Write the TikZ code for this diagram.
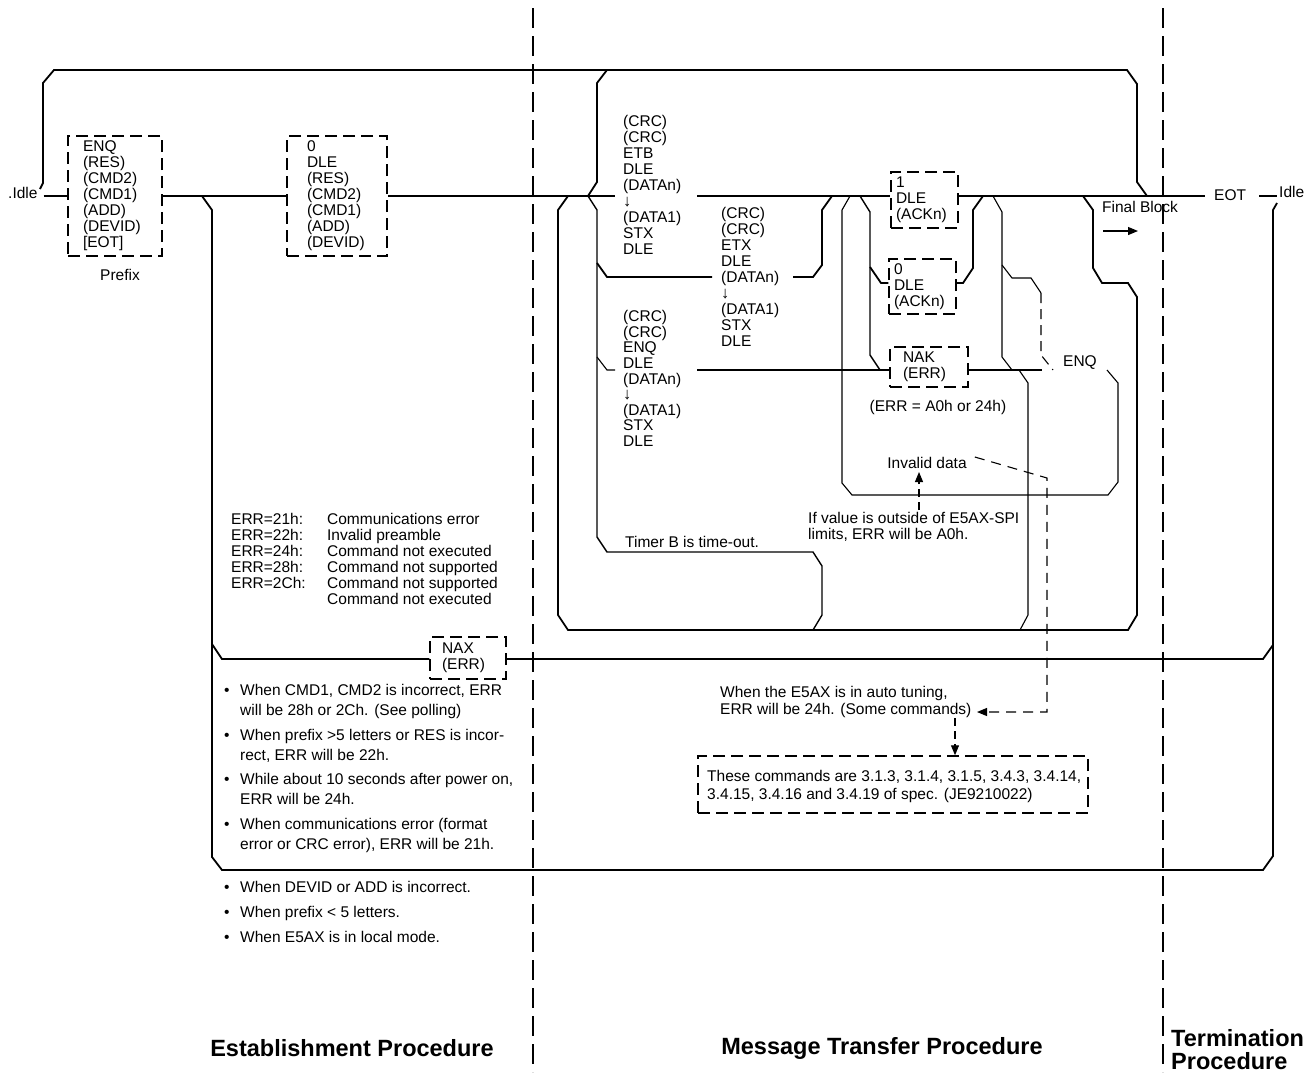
\documentclass[tikz,border=0pt]{standalone}
\usepackage{fontspec}
\setmainfont{Liberation Sans}
\usetikzlibrary{arrows.meta}
\newcommand{\fsz}{\fontsize{15.5}{16}\selectfont\lineskiplimit=-20pt\relax}
\newcommand{\fszq}{\fontsize{15.5}{15.6}\selectfont\lineskiplimit=-20pt\relax}
\newcommand{\fsplain}{\fontsize{15.5}{16}\selectfont}
\newcommand{\dn}{{\fontsize{16.5}{16}\selectfont ↓}}
\newcommand{\bl}{\makebox[16pt][l]{•}}
\newcommand{\ind}{\hspace*{16pt}}
\begin{document}
\begin{tikzpicture}[x=1pt,y=-1pt,
  railthick/.style={line width=1.8pt},
  railmid/.style={line width=1.4pt},
  railthin/.style={line width=1.1pt},
  divider/.style={line width=1.2pt, dash pattern=on 20pt off 8pt},
  notedash/.style={line width=1.1pt, dash pattern=on 10pt off 7pt},
  arrowhd/.style={-{Triangle[length=10pt,width=8pt]}},
  txt/.style={font=\fsz, inner sep=0pt, align=left},
  dbox/.style={draw, line width=1.5pt, dash pattern=on 12pt off 6pt, font=\fsz, align=left, inner ysep=0pt},
  proclabel/.style={font=\fontsize{23.5}{23}\selectfont\bfseries, inner sep=0pt, align=left}
]
\useasboundingbox (0,0) rectangle (1311,1072);

% phase separators
\draw[divider] (533,8) -- (533,1072);
\draw[divider] (1163,8) -- (1163,1072);

% boxes
\node[dbox, minimum height=120pt, text width=64pt, inner xsep=15pt] (prefix) at (115,196)
  {ENQ\\(RES)\\(CMD2)\\(CMD1)\\(ADD)\\(DEVID)\\{[EOT]}};
\node[dbox, minimum height=120pt, text width=60pt, inner xsep=20pt] (box2) at (337,196)
  {0\\DLE\\(RES)\\(CMD2)\\(CMD1)\\(ADD)\\(DEVID)};
\node[dbox, minimum height=56pt, text width=57pt, inner xsep=5pt] (ack1) at (924.5,200)
  {1\\DLE\\(ACKn)};
\node[dbox, minimum height=55pt, text width=57pt, inner xsep=5pt] (ack0) at (922.5,286.5)
  {0\\DLE\\(ACKn)};
\node[dbox, minimum height=40pt, text width=52pt, inner xsep=13pt] (nak) at (929,367)
  {NAK\\(ERR)};
\node[dbox, minimum height=42pt, text width=52pt, inner xsep=12pt] (nax) at (468,658)
  {NAX\\(ERR)};
\node[dbox, minimum width=390pt, minimum height=57pt] (cmdbox) at (893,784.5) {};

% junction helpers
\coordinate (mainy) at (0,196);
\coordinate (j0) at (881,283);
\coordinate (jn) at (880,370);
\coordinate (jx) at (222,659);
\coordinate (cmdx) at (955,0);

% texts
\node[txt, anchor=west] (idleL) at (8,193) {.Idle};
\node[txt, anchor=west] (idleR) at (1279,192) {Idle};
\node[txt, anchor=west] (eot) at (1214,195) {EOT};
\node[txt, anchor=west] (fb) at (1102,207) {Final Block};
\node[txt] (prefixlbl) at (120,275) {Prefix};
\node[txt, anchor=west] (etb) at (623,185)
  {(CRC)\\(CRC)\\ETB\\DLE\\(DATAn)\\\dn\\(DATA1)\\STX\\DLE};
\node[txt, anchor=west] (etx) at (721,276.5)
  {(CRC)\\(CRC)\\ETX\\DLE\\(DATAn)\\\dn\\(DATA1)\\STX\\DLE};
\node[txt, anchor=west, font=\fszq] (enqblk) at (623,378.5)
  {(CRC)\\(CRC)\\ENQ\\DLE\\(DATAn)\\\dn\\(DATA1)\\STX\\DLE};
\node[txt, anchor=west] (timer) at (625,542) {Timer B is time-out.};
\node[txt] (errval) at (938,407) {(ERR = A0h or 24h)};
\node[txt] (inv) at (927,463) {Invalid data};
\node[txt, anchor=west] (ifval) at (808,527) {If value is outside of E5AX-SPI\\limits, ERR will be A0h.};
\node[txt, anchor=west, font=\fontsize{15.5}{17}\selectfont] (tuning) at (720,701.5)
  {When the E5AX is in auto tuning,\\ERR will be 24h. (Some commands)};
\node[txt, anchor=west, font=\fontsize{15.5}{18}\selectfont] (cmdtxt) at (707,786)
  {These commands are 3.1.3, 3.1.4, 3.1.5, 3.4.3, 3.4.14,\\3.4.15, 3.4.16 and 3.4.19 of spec. (JE9210022)};
\node[txt, anchor=west] (enq) at (1063,363) {ENQ};
\node[txt, anchor=west, font=\fsplain] (errtab) at (231,561)
  {\begin{tabular}{@{}p{96pt}@{}l@{}}
   ERR=21h: & Communications error\\
   ERR=22h: & Invalid preamble\\
   ERR=24h: & Command not executed\\
   ERR=28h: & Command not supported\\
   ERR=2Ch: & Command not supported\\
            & Command not executed
   \end{tabular}};
\node[txt, anchor=west, font=\fontsize{15.5}{20}\selectfont] (bul1) at (224,768.5)
  {\bl When CMD1, CMD2 is incorrect, ERR\\
   \ind will be 28h or 2Ch. (See polling)\\[4.5pt]
   \bl When prefix >5 letters or RES is incor-\\
   \ind rect, ERR will be 22h.\\[4.5pt]
   \bl While about 10 seconds after power on,\\
   \ind ERR will be 24h.\\[4.5pt]
   \bl When communications error (format\\
   \ind error or CRC error), ERR will be 21h.};
\node[txt, anchor=west, font=\fontsize{15.5}{25}\selectfont] (bul2) at (224,912)
  {\bl When DEVID or ADD is incorrect.\\
   \bl When prefix < 5 letters.\\
   \bl When E5AX is in local mode.};
\node[proclabel] (est) at (352,1048) {Establishment Procedure};
\node[proclabel] (mtp) at (882,1048) {Message Transfer Procedure};
\node[proclabel, anchor=west] (term) at (1171,1049.5) {Termination\\Procedure};

% main line
\draw[railthick] ([xshift=6pt]idleL.east |- mainy) -- (prefix.west);
\draw[railthick] (prefix.east) -- (box2.west);
\draw[railthick] (box2.east) -- (615,196);
\draw[railthick] (697,196) -- (mainy -| ack1.west);
\draw[railthick] (mainy -| ack1.east) -- ([xshift=-9pt]eot.west |- mainy);
\draw[railthick] ([xshift=13pt]eot.east |- mainy) -- ([xshift=-2pt]idleR.west |- mainy);

% top loop
\draw[railthick] (40,189) -- (43,183) -- (43,83) -- (54,70) -- (1127,70) -- (1137,84) -- (1137,182) -- (1147,196);

% establishment error loops
\draw[railthick] (202,196) -- (212,210) -- (212,857) -- (222,870) -- (1263,870) -- (1273,856) -- (1273,210) -- (1277,203);
\draw[railthick] (212,644) -- (jx) -- (nax.west |- jx);
\draw[railthick] (nax.east |- jx) -- (1263,659) -- (1273,645);

% message transfer
\draw[railthick] (607,70) -- (597,83) -- (597,182) -- (588,196);
\draw[railmid] (588,196) -- (597,210) -- (597,537) -- (607,552) -- (813,552) -- (822,566) -- (822,615) -- (813,630);
\draw[railthick] (597,263) -- (607,277) -- (712,277);
\draw[railthick] (793,277) -- (813,277) -- (822,265) -- (822,210) -- (832,196);
\draw[railthin] (597,357) -- (607,370) -- (615,370);
\draw[railthin] (697,370) -- (jn -| nak.west);
\draw[railthick] (568,196) -- (558,210) -- (558,615) -- (568,630) -- (1128,630) -- (1137,615) -- (1137,297) -- (1128,283) -- (1102,283) -- (1093,268) -- (1093,210) -- (1083,196);
\draw[railthin] (1020,630) -- (1028,615) -- (1028,383) -- (1019,370);
\draw[railthin] (850,196) -- (842,210) -- (842,483) -- (852,495) -- (1108,495) -- (1118,482) -- (1118,383) -- (1107,370);
\draw[railmid] (860,196) -- (870,212) -- (870,355) -- (jn);
\draw[railthick] (870,267) -- (j0) -- (j0 -| ack0.west);
\draw[railthick] (j0 -| ack0.east) -- (963,283) -- (973,268) -- (973,210) -- (983,196);
\draw[railthin] (jn -| nak.east) -- (1042,370);
\draw[railthin] (993,196) -- (1002,212) -- (1002,357) -- (1012,370);
\draw[railthin] (1002,265) -- (1012,278) -- (1031,278) -- (1041,293);
\draw[railthin, dash pattern=on 10pt off 6pt] (1041,293) -- (1041,355) -- (1053,370);

% annotations
\coordinate (tunetip) at (977,712);
\draw[notedash, arrowhd] ([xshift=8pt,yshift=6pt]inv.east) -- (1047,478) -- (1047,712) -- (tunetip);
\draw[notedash, dash pattern=on 8pt off 5pt, arrowhd] (919,510) -- (919,472);
\draw[notedash, dash pattern=on 8pt off 5pt, arrowhd] (955,718) -- (cmdbox.north -| cmdx);
\draw[line width=1.2pt, arrowhd] (1103,231) -- (1138,231);
\end{tikzpicture}
\end{document}
